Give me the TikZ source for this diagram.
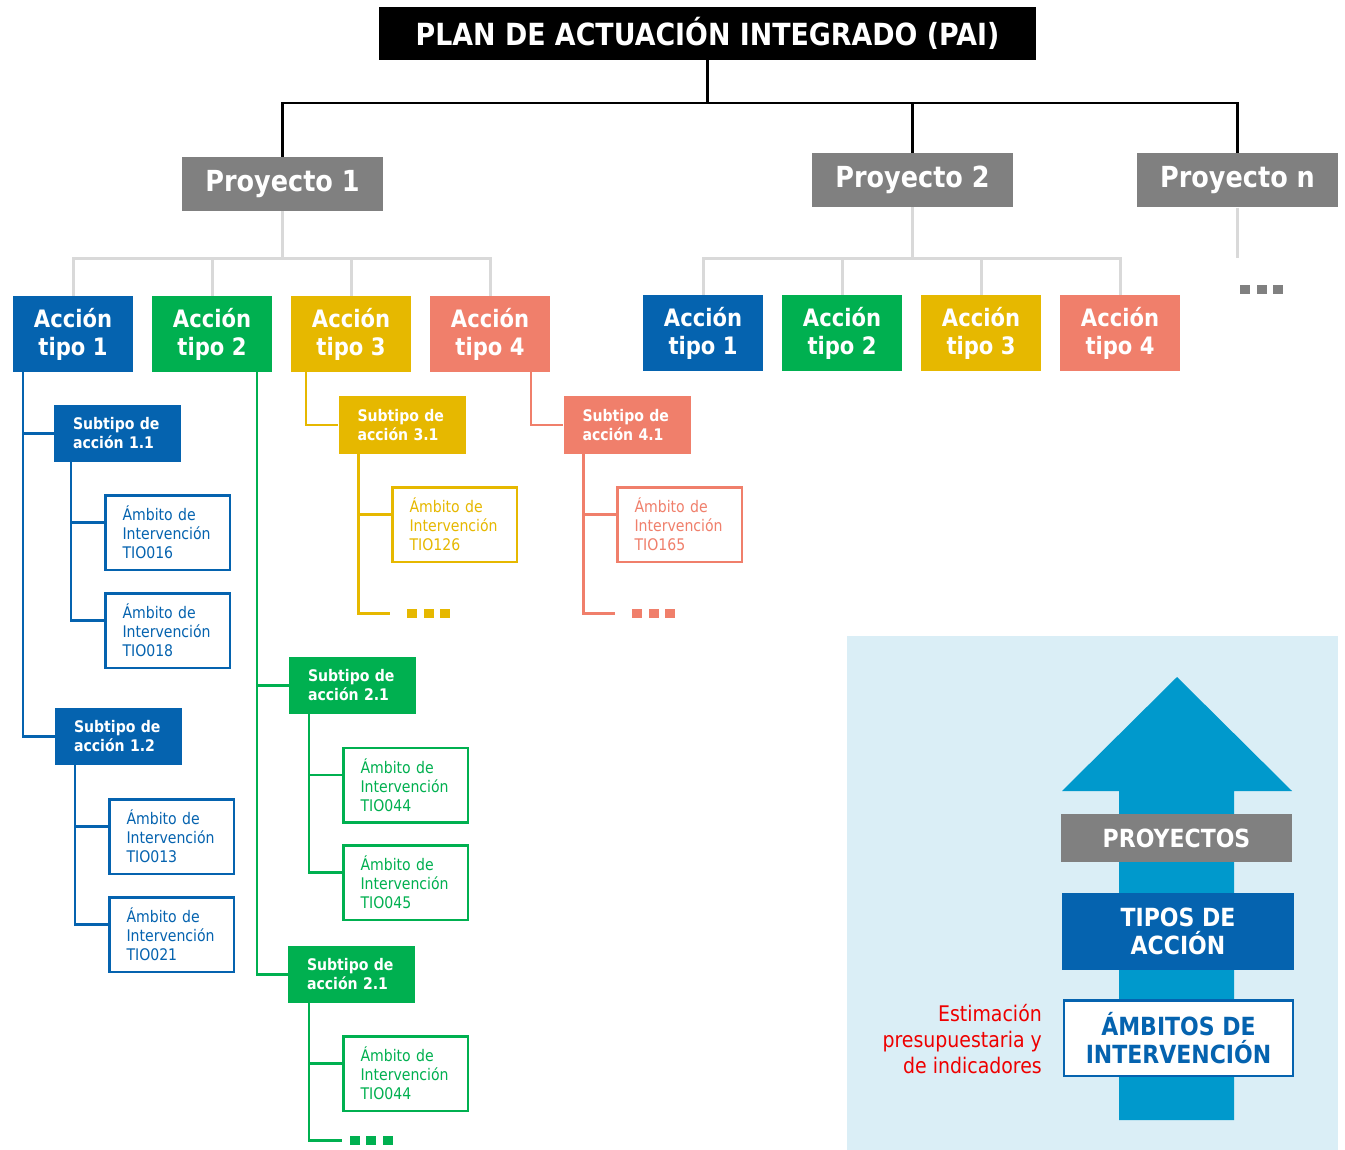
\documentclass[tikz,border=0pt]{standalone}
\usepackage{fontspec}
\setmainfont[FakeStretch=0.88]{DejaVu Sans}
\usetikzlibrary{positioning}
\definecolor{azul}{HTML}{0563AF}
\definecolor{verde}{HTML}{00B050}
\definecolor{amarillo}{HTML}{E6B800}
\definecolor{salmon}{HTML}{F07F6B}
\definecolor{gris}{HTML}{808080}
\definecolor{grisclaro}{HTML}{D9D9D9}
\definecolor{fondo}{HTML}{DAEEF6}
\definecolor{flecha}{HTML}{0099CC}
\definecolor{rojo}{HTML}{EE0000}
\newcommand{\trespuntos}{\rule{10pt}{9pt}\hspace{6.5pt}\rule{10pt}{9pt}\hspace{6.5pt}\rule{10pt}{9pt}}
\tikzset{proy/.style={fill=gris, text=white, font=\fontsize{29}{34}\selectfont\bfseries, minimum width=201pt, minimum height=54pt, inner sep=0pt}}
\tikzset{accion/.style={fill=#1, text=white, align=center, font=\fontsize{24}{28}\selectfont\bfseries, minimum width=120pt, minimum height=76pt, inner sep=0pt}}
\tikzset{subtipo/.style={fill=#1, text=white, align=left, text width=89pt, inner xsep=19pt, inner ysep=0pt, minimum height=57pt, font=\fontsize{16}{19}\selectfont\bfseries}}
\tikzset{ambito/.style={draw=#1, fill=white, line width=2.5pt, text=#1, align=left, text width=90pt, inner xsep=17.25pt, inner ysep=0pt, minimum height=74.5pt, font=\fontsize{16}{19}\selectfont}}
\tikzset{rama/.style={draw=#1, line width=2.5pt}}
\tikzset{puntos/.style={text=#1, inner sep=0pt}}
\tikzset{leyenda/.style={align=center, font=\fontsize{25}{28}\selectfont\bfseries, minimum width=231pt, inner sep=0pt}}

\begin{document}
\begin{tikzpicture}[x=1pt, y=-1pt, on grid]
\useasboundingbox (0,0) rectangle (1345,1150);

% cabecera y proyectos
\node[fill=black, text=white, font=\fontsize{30.5}{34}\selectfont\bfseries, minimum width=657pt, minimum height=53pt, inner sep=0pt] (PAI) at (707.5,33.5) {PLAN DE ACTUACIÓN INTEGRADO (PAI)};
\node[proy] (P1) [below left = 150.5pt and 425pt of PAI] {Proyecto 1};
\node[proy] (P2) [below right = 146.5pt and 205pt of PAI] {Proyecto 2};
\node[proy] (Pn) [below right = 147pt and 530pt of PAI] {Proyecto n};
\node[puntos=gris] (Dn) [below right = 109.5pt and 24pt of Pn] {\trespuntos};

% acciones del proyecto 1
\node[accion=azul] (A11) [below left = 150pt and 209.5pt of P1] {Acción\\tipo 1};
\node[accion=verde] (A12) [right = 139pt of A11] {Acción\\tipo 2};
\node[accion=amarillo] (A13) [right = 139pt of A12] {Acción\\tipo 3};
\node[accion=salmon] (A14) [right = 139pt of A13] {Acción\\tipo 4};

% acciones del proyecto 2
\node[accion=azul] (A21) [below left = 153pt and 209.5pt of P2] {Acción\\tipo 1};
\node[accion=verde] (A22) [right = 139pt of A21] {Acción\\tipo 2};
\node[accion=amarillo] (A23) [right = 139pt of A22] {Acción\\tipo 3};
\node[accion=salmon] (A24) [right = 139pt of A23] {Acción\\tipo 4};

% subtipos y ambitos
\node[subtipo=azul] (S11) [below right = 99.5pt and 44.5pt of A11] {Subtipo de\\acción 1.1};
\node[ambito=azul] (T016) [below right = 99pt and 50pt of S11] {Ámbito de\\Intervención\\TIO016};
\node[ambito=azul] (T018) [below = 98pt of T016] {Ámbito de\\Intervención\\TIO018};
\node[subtipo=azul] (S12) [below right = 303pt and 1pt of S11] {Subtipo de\\acción 1.2};
\node[ambito=azul] (T013) [below right = 100pt and 53pt of S12] {Ámbito de\\Intervención\\TIO013};
\node[ambito=azul] (T021) [below = 98pt of T013] {Ámbito de\\Intervención\\TIO021};

\node[subtipo=verde] (S21) [below right = 351.5pt and 140.5pt of A12] {Subtipo de\\acción 2.1};
\node[ambito=verde] (T044) [below right = 99.5pt and 53pt of S21] {Ámbito de\\Intervención\\TIO044};
\node[ambito=verde] (T045) [below = 97.5pt of T044] {Ámbito de\\Intervención\\TIO045};
\node[subtipo=verde] (S22) [below left = 289pt and 1pt of S21] {Subtipo de\\acción 2.1};
\node[ambito=verde] (T044b) [below right = 99pt and 54pt of S22] {Ámbito de\\Intervención\\TIO044};
\node[puntos=verde] (D22) [below right = 166pt and 19.5pt of S22] {\trespuntos};

\node[subtipo=amarillo] (S31) [below right = 91pt and 51pt of A13] {Subtipo de\\acción 3.1};
\node[ambito=amarillo] (T126) [below right = 99.5pt and 52.5pt of S31] {Ámbito de\\Intervención\\TIO126};
\node[puntos=amarillo] (D3) [below right = 188.5pt and 26.5pt of S31] {\trespuntos};

\node[subtipo=salmon] (S41) [below right = 91pt and 137pt of A14] {Subtipo de\\acción 4.1};
\node[ambito=salmon] (T165) [below right = 99.5pt and 52.5pt of S41] {Ámbito de\\Intervención\\TIO165};
\node[puntos=salmon] (D4) [below right = 188.5pt and 26.5pt of S41] {\trespuntos};

% conectores
\draw[rama=black] (PAI.south) -- ++(0,43) coordinate (c0);
\draw[rama=black] (P1.north) |- (c0) -| (Pn.north);
\draw[rama=black] (P2.north) -- (P2.north |- c0);

\draw[rama=grisclaro, line width=3pt] (P1.south) -- ++(0,47) coordinate (c1);
\draw[rama=grisclaro, line width=3pt] (A11.north) |- (c1) -| (A14.north);
\draw[rama=grisclaro, line width=3pt] (A12.north) -- (A12.north |- c1);
\draw[rama=grisclaro, line width=3pt] (A13.north) -- (A13.north |- c1);
\draw[rama=grisclaro, line width=3pt] (P2.south) -- ++(0,51) coordinate (c2);
\draw[rama=grisclaro, line width=3pt] (A21.north) |- (c2) -| (A24.north);
\draw[rama=grisclaro, line width=3pt] (A22.north) -- (A22.north |- c2);
\draw[rama=grisclaro, line width=3pt] (A23.north) -- (A23.north |- c2);
\draw[rama=grisclaro, line width=3pt] (Pn.south) -- ([yshift=27pt]Dn.north -| Pn.south);

\draw[rama=azul] ([xshift=10pt]A11.south west) |- (S11.west);
\draw[rama=azul] ([xshift=10pt]A11.south west) |- (S12.west);
\draw[rama=azul] ([xshift=17pt]S11.south west) |- ([yshift=10pt]T016.west);
\draw[rama=azul] ([xshift=17pt]S11.south west) |- ([yshift=10pt]T018.west);
\draw[rama=azul] ([xshift=20pt]S12.south west) |- ([yshift=10pt]T013.west);
\draw[rama=azul] ([xshift=20pt]S12.south west) |- ([yshift=10pt]T021.west);

\draw[rama=verde] ([xshift=-15pt]A12.south east) |- (S21.west);
\draw[rama=verde] ([xshift=-15pt]A12.south east) |- (S22.west);
\draw[rama=verde] ([xshift=20pt]S21.south west) |- ([yshift=10pt]T044.west);
\draw[rama=verde] ([xshift=20pt]S21.south west) |- ([yshift=10pt]T045.west);
\draw[rama=verde] ([xshift=21pt]S22.south west) |- ([yshift=10pt]T044b.west);
\draw[rama=verde] ([xshift=21pt]S22.south west) |- ([xshift=-7pt]D22.west);

\draw[rama=amarillo] ([xshift=15pt]A13.south west) |- (S31.west);
\draw[rama=amarillo] ([xshift=20pt]S31.south west) |- ([yshift=10pt]T126.west);
\draw[rama=amarillo] ([xshift=20pt]S31.south west) |- ([xshift=-17pt]D3.west);

\draw[rama=salmon] ([xshift=-19pt]A14.south east) |- (S41.west);
\draw[rama=salmon] ([xshift=20pt]S41.south west) |- ([yshift=10pt]T165.west);
\draw[rama=salmon] ([xshift=20pt]S41.south west) |- ([xshift=-17pt]D4.west);

% leyenda
\fill[fondo] (847,636) rectangle (1338,1150);
\fill[flecha] (1119,1120) -- (1119,791) -- (1062,791) -- (1177,677) -- (1292,791) -- (1234,791) -- (1234,1120) -- cycle;
\node[leyenda, fill=gris, text=white, minimum height=48pt] (LP) at (1176.5,838) {PROYECTOS};
\node[leyenda, fill=azul, text=white, minimum width=232pt, minimum height=77pt] (LT) [below right = 93.5pt and 1.5pt of LP] {TIPOS DE\\ACCIÓN};
\node[leyenda, fill=white, draw=azul, line width=2.5pt, text=azul, minimum width=229pt, minimum height=75.5pt] (LA) [below right = 106.5pt and 0.5pt of LT] {ÁMBITOS DE\\INTERVENCIÓN};
\node[anchor=east, align=right, text=rojo, font=\fontsize{21.5}{26}\selectfont, inner sep=0pt] (EST) at (1042,1039) {Estimación\\presupuestaria y\\de indicadores};
\end{tikzpicture}
\end{document}
